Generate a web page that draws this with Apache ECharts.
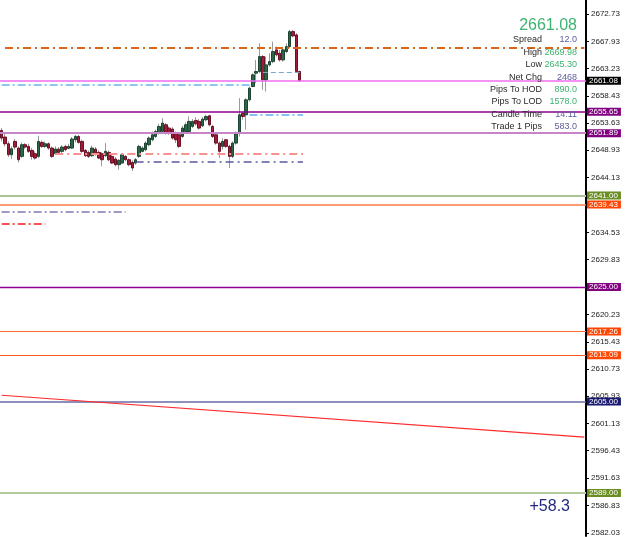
<!DOCTYPE html>
<html>
<head>
<meta charset="utf-8">
<script src="https://cdn.jsdelivr.net/npm/echarts@6/dist/echarts.min.js"></script>
<style>
  html, body { margin: 0; padding: 0; background: #fff; }
  #chart { width: 625px; height: 537px; }
</style>
</head>
<body>
<div id="chart"></div>
<script>
// M1 candles, oldest first: open / close / low / high
const candleOpen = [2652.38, 2651.22, 2650.05, 2648.13, 2650.46, 2649.30, 2647.84, 2649.88, 2649.59, 2648.89,
  2648.31, 2647.84, 2650.29, 2649.59, 2650.05, 2649.30, 2648.31, 2649.12, 2648.72, 2649.59,
  2649.24, 2649.30, 2650.75, 2651.33, 2650.46, 2648.89, 2648.54, 2647.96, 2649.12, 2648.54,
  2648.31, 2647.96, 2648.54, 2647.84, 2647.38, 2646.39, 2646.68, 2647.84, 2647.26, 2646.80,
  2646.68, 2647.84, 2648.72, 2649.01, 2649.88, 2650.75, 2651.33, 2651.91, 2652.20, 2653.37,
  2652.79, 2652.61, 2651.91, 2651.62, 2651.33, 2652.20, 2652.20, 2653.08, 2654.12, 2653.95,
  2653.19, 2654.24, 2654.94, 2653.08, 2651.62, 2650.17, 2649.59, 2650.75, 2649.59, 2647.84,
  2650.17, 2651.91, 2655.40, 2655.11, 2657.73, 2660.05, 2662.38, 2662.67, 2665.29, 2661.22,
  2663.83, 2664.41, 2666.45, 2665.87, 2664.70, 2666.16, 2667.03, 2669.65, 2669.07, 2662.67]
const candleClose = [2651.04, 2650.05, 2648.13, 2649.18, 2649.47, 2647.26, 2649.88, 2649.47, 2648.72, 2647.84,
  2647.55, 2650.46, 2649.59, 2650.05, 2649.30, 2647.84, 2649.12, 2648.54, 2649.47, 2649.01,
  2649.59, 2650.87, 2651.33, 2650.29, 2648.72, 2647.96, 2647.84, 2649.30, 2648.31, 2647.55,
  2647.26, 2648.72, 2647.26, 2646.68, 2646.39, 2647.15, 2648.13, 2647.26, 2646.39, 2645.81,
  2647.26, 2649.59, 2649.30, 2650.17, 2651.04, 2651.62, 2652.20, 2653.08, 2653.66, 2651.91,
  2651.91, 2651.04, 2650.75, 2649.59, 2652.79, 2653.37, 2653.95, 2653.95, 2653.54, 2652.79,
  2654.36, 2654.82, 2653.37, 2651.33, 2650.17, 2648.72, 2650.46, 2649.59, 2647.84, 2650.17,
  2651.91, 2655.11, 2654.82, 2657.73, 2659.76, 2662.09, 2662.67, 2665.29, 2661.22, 2663.83,
  2664.41, 2666.16, 2665.58, 2664.70, 2666.45, 2667.03, 2669.65, 2668.89, 2662.67, 2661.08]
const candleLow = [2650.46, 2649.59, 2647.73, 2647.38, 2649.01, 2646.80, 2647.55, 2649.12, 2648.43, 2647.26,
  2647.26, 2647.55, 2649.30, 2649.30, 2649.01, 2647.55, 2648.13, 2648.31, 2648.43, 2648.72,
  2649.12, 2649.12, 2650.29, 2650.05, 2648.43, 2647.73, 2647.55, 2647.73, 2647.96, 2647.38,
  2646.10, 2647.73, 2646.97, 2646.51, 2646.10, 2645.52, 2646.57, 2646.97, 2646.10, 2645.30,
  2646.39, 2647.55, 2648.54, 2648.72, 2649.59, 2650.46, 2651.04, 2651.62, 2651.91, 2651.62,
  2651.62, 2650.75, 2650.17, 2649.30, 2651.04, 2651.91, 2652.03, 2652.79, 2653.19, 2652.50,
  2652.96, 2653.95, 2653.08, 2651.04, 2649.88, 2647.55, 2649.01, 2649.30, 2645.81, 2647.55,
  2649.88, 2651.33, 2654.24, 2652.50, 2657.44, 2659.94, 2660.63, 2662.38, 2659.47, 2659.18,
  2663.54, 2664.12, 2665.29, 2664.41, 2664.41, 2665.87, 2666.74, 2668.66, 2662.50, 2660.93]
const candleHigh = [2652.79, 2652.03, 2650.46, 2649.59, 2650.87, 2649.59, 2650.29, 2650.17, 2650.05, 2649.30,
  2648.72, 2651.45, 2650.63, 2650.46, 2650.29, 2649.59, 2649.59, 2649.47, 2649.82, 2649.88,
  2650.05, 2651.22, 2651.62, 2651.62, 2650.75, 2649.12, 2648.89, 2649.71, 2649.47, 2648.89,
  2648.54, 2650.17, 2648.89, 2648.13, 2647.73, 2647.38, 2648.43, 2648.08, 2647.50, 2647.15,
  2647.55, 2649.88, 2649.59, 2650.46, 2651.33, 2652.20, 2652.50, 2653.54, 2654.53, 2653.66,
  2653.08, 2652.96, 2652.20, 2651.91, 2653.19, 2653.77, 2654.82, 2654.36, 2654.70, 2654.36,
  2654.70, 2655.11, 2655.11, 2653.37, 2651.91, 2650.46, 2651.04, 2650.87, 2649.88, 2650.46,
  2652.20, 2658.02, 2655.69, 2658.02, 2660.05, 2662.38, 2664.70, 2667.61, 2665.58, 2665.29,
  2665.87, 2667.90, 2667.03, 2666.45, 2666.74, 2667.61, 2669.98, 2669.94, 2669.36, 2662.84]

// the chart keeps empty room to the right of the last bar
const barSlots = 175

// price scale labels on the right
const tickValues = [2672.73, 2667.93, 2663.23, 2658.43, 2653.63, 2648.93, 2644.13, 2634.53, 2629.83,
  2620.23, 2615.43, 2610.73, 2605.93, 2601.13, 2596.43, 2591.63, 2586.83, 2582.03]
const priceMin = 2581.51
const priceMax = 2675.17

// full-width price levels with their tag on the scale
const levelPrices = [2661.08, 2655.65, 2651.89, 2641.00, 2639.43, 2625.00, 2617.26, 2613.09, 2605.00, 2589.00]
const levelStyle = [
  { line: '#f06cf0', width: 1.5, tag: '#000000' },
  { line: '#8b008b', width: 1.5, tag: '#800080' },
  { line: '#c785c7', width: 2, tag: '#800080' },
  { line: '#aec498', width: 2, tag: '#6b8e23' },
  { line: '#ff7a45', width: 1.5, tag: '#ff4500' },
  { line: '#900090', width: 1.3, tag: '#800080' },
  { line: '#ff6a35', width: 1.2, tag: '#ff4500' },
  { line: '#ff5a25', width: 1.2, tag: '#ff4500' },
  { line: '#6a6aa4', width: 1.5, tag: '#191970' },
  { line: '#b5c79c', width: 2, tag: '#6b8e23' }
]

// partial / sloped lines: bar index from..to, price at start..end
const segmentFrom = [1, 0, 78, 74, 16, 40, 0, 0, 0]
const segmentTo = [174, 74, 89, 90, 90, 90, 37, 13, 174]
const segmentStartPrice = [2666.80, 2660.43, 2662.61, 2655.17, 2648.31, 2646.86, 2638.19, 2636.10, 2606.10]
const segmentEndPrice = [2666.80, 2660.43, 2662.61, 2655.17, 2648.31, 2646.86, 2638.19, 2636.10, 2598.77]
const segmentStyle = [
  { color: '#dc6418', width: 2, type: [8, 4, 2, 4] },
  { color: '#8cc8f4', width: 2, type: [8, 3, 2, 3] },
  { color: '#7aa6c8', width: 1, type: [5, 3] },
  { color: '#86c0f8', width: 2, type: [8, 3, 2, 3] },
  { color: '#ff9090', width: 2, type: [8, 4, 2, 4] },
  { color: '#5a5aa0', width: 1.5, type: [8, 4, 2, 4] },
  { color: '#9a9ac4', width: 2, type: [8, 3, 2, 3] },
  { color: '#ff1a1a', width: 1.5, type: [8, 3, 2, 3] },
  { color: '#ff2a2a', width: 1.2, type: 'solid' }
]

// info panel
const lastPrice = '2661.08'
const infoLabels = ['Spread', 'High', 'Low', 'Net Chg', 'Pips To HOD', 'Pips To LOD', 'Candle Time', 'Trade 1 Pips']
const infoValues = ['12.0', '2669.98', '2645.30', '2468', '890.0', '1578.0', '14:11', '583.0']
const infoGreen = [false, true, true, false, true, true, false, false]
const profitText = '+58.3'

const categories = []
for (let i = 0; i < barSlots; i++) {
  const m = i % 60
  categories.push(Math.floor(i / 60) + ':' + (m < 10 ? '0' + m : m))
}

const fullCandles = candleOpen.map((o, i) => [o, candleClose[i], candleLow[i], candleHigh[i]])
const bodies = candleOpen.map((o, i) => {
  const c = candleClose[i]
  return [o, c, Math.min(o, c), Math.max(o, c)]
})

const levelLines = levelPrices.map((p, i) => ({
  yAxis: p,
  lineStyle: { color: levelStyle[i].line, width: levelStyle[i].width, type: 'solid' },
  label: {
    show: true,
    position: 'end',
    distance: 1,
    formatter: p.toFixed(2),
    backgroundColor: levelStyle[i].tag,
    color: '#fff',
    fontSize: 8,
    fontFamily: 'Liberation Sans',
    lineHeight: 8,
    padding: [0, 3, 0, 2]
  }
}))

const segmentLines = segmentFrom.map((from, i) => [
  {
    coord: [from, segmentStartPrice[i]],
    lineStyle: { color: segmentStyle[i].color, width: segmentStyle[i].width, type: segmentStyle[i].type },
    label: { show: false }
  },
  { coord: [segmentTo[i], segmentEndPrice[i]] }
])

const infoGraphics = []
infoLabels.forEach((t, i) => {
  const y = 40 + i * 12.4
  infoGraphics.push({
    type: 'text', x: 542, y: y, z: 100,
    style: { text: t, align: 'right', textAlign: 'right', verticalAlign: 'middle', textVerticalAlign: 'middle',
      fill: '#2a2a2a', font: '9px "Liberation Sans"' }
  })
  infoGraphics.push({
    type: 'text', x: 577, y: y, z: 100,
    style: { text: infoValues[i], align: 'right', textAlign: 'right', verticalAlign: 'middle', textVerticalAlign: 'middle',
      fill: infoGreen[i] ? '#3cb371' : '#5c5c9c', font: '9px "Liberation Sans"' }
  })
})
infoGraphics.push({
  type: 'text', x: 577, y: 26, z: 100,
  style: { text: lastPrice, align: 'right', textAlign: 'right', verticalAlign: 'middle', textVerticalAlign: 'middle',
    fill: '#3cb371', font: '16px "Liberation Sans"' }
})
infoGraphics.push({
  type: 'text', x: 570, y: 507, z: 100,
  style: { text: profitText, align: 'right', textAlign: 'right', verticalAlign: 'middle', textVerticalAlign: 'middle',
    fill: '#222a80', font: '16px "Liberation Sans"' }
})

const myChart = echarts.init(document.getElementById('chart'))
myChart.setOption({
  animation: false,
  backgroundColor: '#ffffff',
  grid: { left: 0, right: 39, top: 0, bottom: 0 },
  xAxis: {
    type: 'category',
    data: categories,
    boundaryGap: true,
    show: false
  },
  yAxis: {
    type: 'value',
    position: 'right',
    min: priceMin,
    max: priceMax,
    splitLine: { show: false },
    axisLine: { show: true, lineStyle: { color: '#000', width: 2 } },
    axisTick: { show: true, length: 3, customValues: tickValues, lineStyle: { color: '#000' } },
    axisLabel: {
      customValues: tickValues,
      formatter: v => v.toFixed(2),
      color: '#222',
      fontSize: 8,
      fontFamily: 'Liberation Sans',
      margin: 5
    }
  },
  graphic: infoGraphics,
  series: [
    {
      // wicks
      type: 'candlestick',
      data: fullCandles,
      barWidth: 1,
      itemStyle: { color: '#9a9a9a', color0: '#9a9a9a', borderColor: '#9a9a9a', borderColor0: '#9a9a9a', borderWidth: 1 },
      markLine: {
        silent: true,
        symbol: 'none',
        animation: false,
        data: levelLines.concat(segmentLines)
      }
    },
    {
      // bodies
      type: 'candlestick',
      data: bodies,
      barWidth: 3,
      itemStyle: { color: '#2b6648', color0: '#a01c3a', borderColor: '#1d4532', borderColor0: '#6a1226', borderWidth: 1 }
    }
  ]
})
</script>
</body>
</html>
